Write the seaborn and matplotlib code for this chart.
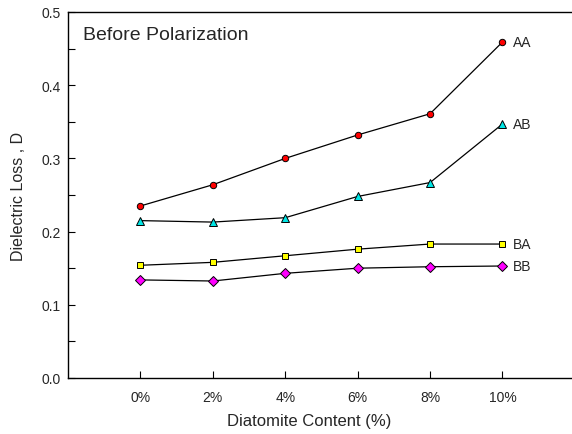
import matplotlib
matplotlib.use("Agg")
import matplotlib.pyplot as plt
from matplotlib.ticker import MultipleLocator, FormatStrFormatter
import seaborn as sns
import pandas as pd

# Dielectric loss vs diatomite content, before polarization
contents = ["0%", "2%", "4%", "6%", "8%", "10%"]
aa = [0.235, 0.264, 0.300, 0.332, 0.361, 0.459]
ab = [0.215, 0.213, 0.219, 0.248, 0.267, 0.347]
ba = [0.154, 0.158, 0.167, 0.176, 0.183, 0.183]
bb = [0.134, 0.1325, 0.143, 0.150, 0.152, 0.153]

series = {"AA": aa, "AB": ab, "BA": ba, "BB": bb}
styles = {
    "AA": dict(marker="o", markerfacecolor="#ff0000", markersize=4.6),
    "AB": dict(marker="^", markerfacecolor="#00e5e5", markersize=5.2),
    "BA": dict(marker="s", markerfacecolor="#ffff00", markersize=4.6),
    "BB": dict(marker="D", markerfacecolor="#ff00ff", markersize=4.6),
}

sns.set_style("white")
plt.rcParams["font.family"] = ["Liberation Sans", "DejaVu Sans"]

fig = plt.figure(figsize=(5.72, 4.35), dpi=100)
ax = fig.add_axes([68 / 572, 56 / 435, 504 / 572, 366 / 435])

pos = list(range(len(contents)))
for name, vals in series.items():
    df = pd.DataFrame({"x": pos, "y": vals})
    sns.lineplot(data=df, x="x", y="y", ax=ax, color="black", linewidth=0.9,
                 markeredgecolor="black", markeredgewidth=0.7, **styles[name])
    ax.text(pos[-1] + 0.14, vals[-1], name, fontsize=10, va="center", ha="left")

ax.set_xlim(-1, 5.96)
ax.set_ylim(0, 0.5)
ax.set_xticks(pos)
ax.set_xticklabels(contents)
ax.yaxis.set_major_locator(MultipleLocator(0.1))
ax.yaxis.set_minor_locator(MultipleLocator(0.05))
ax.yaxis.set_major_formatter(FormatStrFormatter("%.1f"))

ax.tick_params(axis="both", which="both", direction="in", labelsize=10,
               top=False, right=False, color="black", width=0.8)
ax.tick_params(axis="y", which="both", left=True, length=5, pad=5)
ax.tick_params(axis="x", which="major", bottom=True, length=5, pad=9)

for s in ["left", "bottom", "top"]:
    ax.spines[s].set_color("black")
    ax.spines[s].set_linewidth(1.0)
ax.spines["right"].set_visible(False)

ax.set_xlabel("Diatomite Content (%)", fontsize=12)
ax.set_ylabel("Dielectric Loss , D", fontsize=11.5)
ax.xaxis.set_label_coords((309 - 68) / 504, -(422 - 379) / 366 - 0.0)
ax.yaxis.set_label_coords(-(68 - 19) / 504, 0.5)
ax.xaxis.label.set_va("center")
ax.yaxis.label.set_va("center")
ax.text(82.7 / 572, (435 - 27) / 435, "Before Polarization",
        transform=fig.transFigure, fontsize=14, va="top", ha="left")

fig.savefig("out.png", dpi=100)
